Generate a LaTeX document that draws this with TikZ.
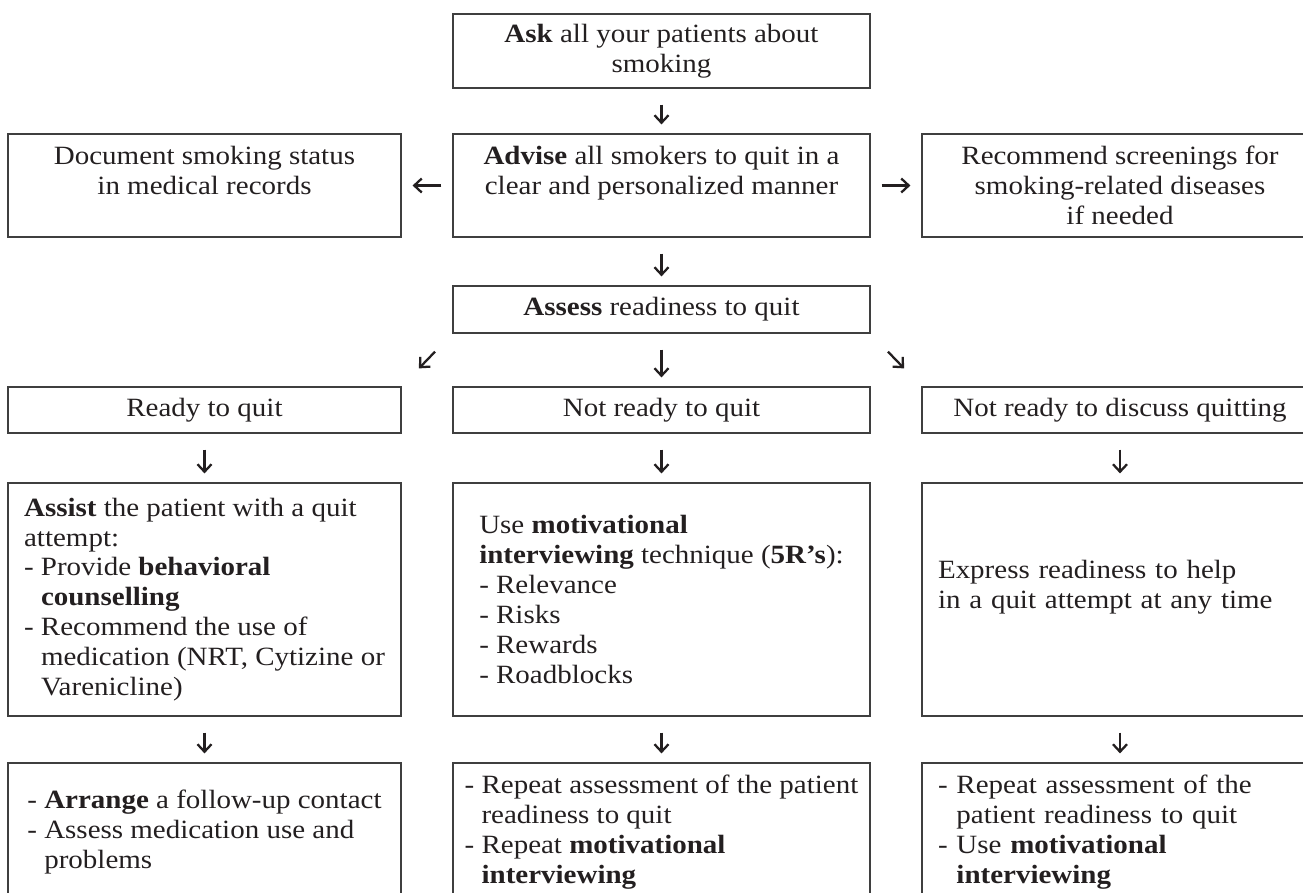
\documentclass[tikz,border=0pt]{standalone}
\usepackage{fontspec}
\setmainfont{Liberation Serif}[FakeStretch=1.1]
\usetikzlibrary{arrows.meta}
\definecolor{ink}{HTML}{231F20}
\definecolor{rulegray}{HTML}{3F3F3F}

\begin{document}
\begin{tikzpicture}[x=0.02cm, y=-0.02cm,
	every node/.style={font=\fontsize{15}{17}\selectfont, text=ink},
	box/.style={draw=rulegray, line width=0.7pt, inner sep=0pt, align=center},
	lbox/.style={box, align=left},
	colL/.style={minimum width=7.86cm}, colM/.style={minimum width=8.34cm}, colR/.style={minimum width=7.92cm},
	arr/.style={->, line width=1.3pt, draw=ink, shorten <=0.32cm, shorten >=0.18cm},
	side/.style={shorten <=0.22cm, shorten >=0.22cm},
	slant/.style={shorten <=0.5cm, shorten >=0.5cm},
	>={Straight Barb[length=1.5mm, width=2.8mm]}]
	\useasboundingbox (0,0) rectangle (1303,893);
	\node[box, colM, minimum height=1.48cm] (ask) at (661.5,51) {\textbf{Ask} all your patients about\\smoking};
	\node[box, colL, minimum height=2.06cm] (document) at (204.5,185.5) {Document smoking status\\in medical records\\\mbox{}};
	\node[box, colM, minimum height=2.06cm] (advise) at (661.5,185.5) {\textbf{Advise} all smokers to quit in a\\clear and personalized manner\\\mbox{}};
	\node[box, colR, minimum height=2.06cm] (screen) at (1120,185.5) {Recommend screenings for\\smoking-related diseases\\if needed};
	\node[box, colM, minimum height=0.94cm] (assess) at (661.5,309.5) {\textbf{Assess} readiness to quit};
	\node[box, colL, minimum height=0.92cm] (ready) at (204.5,410) {Ready to quit};
	\node[box, colM, minimum height=0.92cm] (notready) at (661.5,410) {Not ready to quit};
	\node[box, colR, minimum height=0.92cm] (discuss) at (1120,410) {Not ready to discuss quitting};
	\node[lbox, colL, minimum height=4.66cm] (assist) at (204.5,599.5) {\textbf{Assist} the patient with a quit\\attempt:\\- Provide \textbf{behavioral}\\\phantom{- }\textbf{counselling}\\- Recommend the use of\\\phantom{- }medication (NRT, Cytizine or\\\phantom{- }Varenicline)};
	\node[lbox, colM, minimum height=4.66cm] (motiv) at (661.5,599.5) {Use \textbf{motivational}\\\textbf{interviewing} technique (\textbf{5R's}):\\- Relevance\\- Risks\\- Rewards\\- Roadblocks};
	\node[lbox, colR, text width=7.28cm, minimum height=4.66cm] (express) at (1120,599.5) {Express readiness to help\\in a quit attempt at any time\\\mbox{}};
	\node[lbox, colL, minimum height=2.76cm] (arrange) at (204.5,832) {- \textbf{Arrange} a follow-up contact\\- Assess medication use and\\\phantom{- }problems};
	\node[lbox, colM, minimum height=2.76cm] (repeatmi) at (661.5,832) {- Repeat assessment of the patient\\\phantom{- }readiness to quit\\- Repeat \textbf{motivational}\\\phantom{- }\textbf{interviewing}};
	\node[lbox, colR, text width=7.28cm, minimum height=2.76cm] (usemi) at (1120,832) {- Repeat assessment of the\\\phantom{- }patient readiness to quit\\- Use \textbf{motivational}\\\phantom{- }\textbf{interviewing}};
	\draw[arr] (ask) -- (advise);
	\draw[arr, side] (advise) -- (document);
	\draw[arr, side] (advise) -- (screen);
	\draw[arr] (advise) -- (assess);
	\draw[arr, slant] (assess.south west) -- (ready.north east);
	\draw[arr] (assess) -- (notready);
	\draw[arr, slant] (assess.south east) -- (discuss.north west);
	\foreach \a/\b in {ready/assist, notready/motiv, discuss/express, assist/arrange, motiv/repeatmi, express/usemi}
		\draw[arr] (\a) -- (\b);
\end{tikzpicture}
\end{document}
